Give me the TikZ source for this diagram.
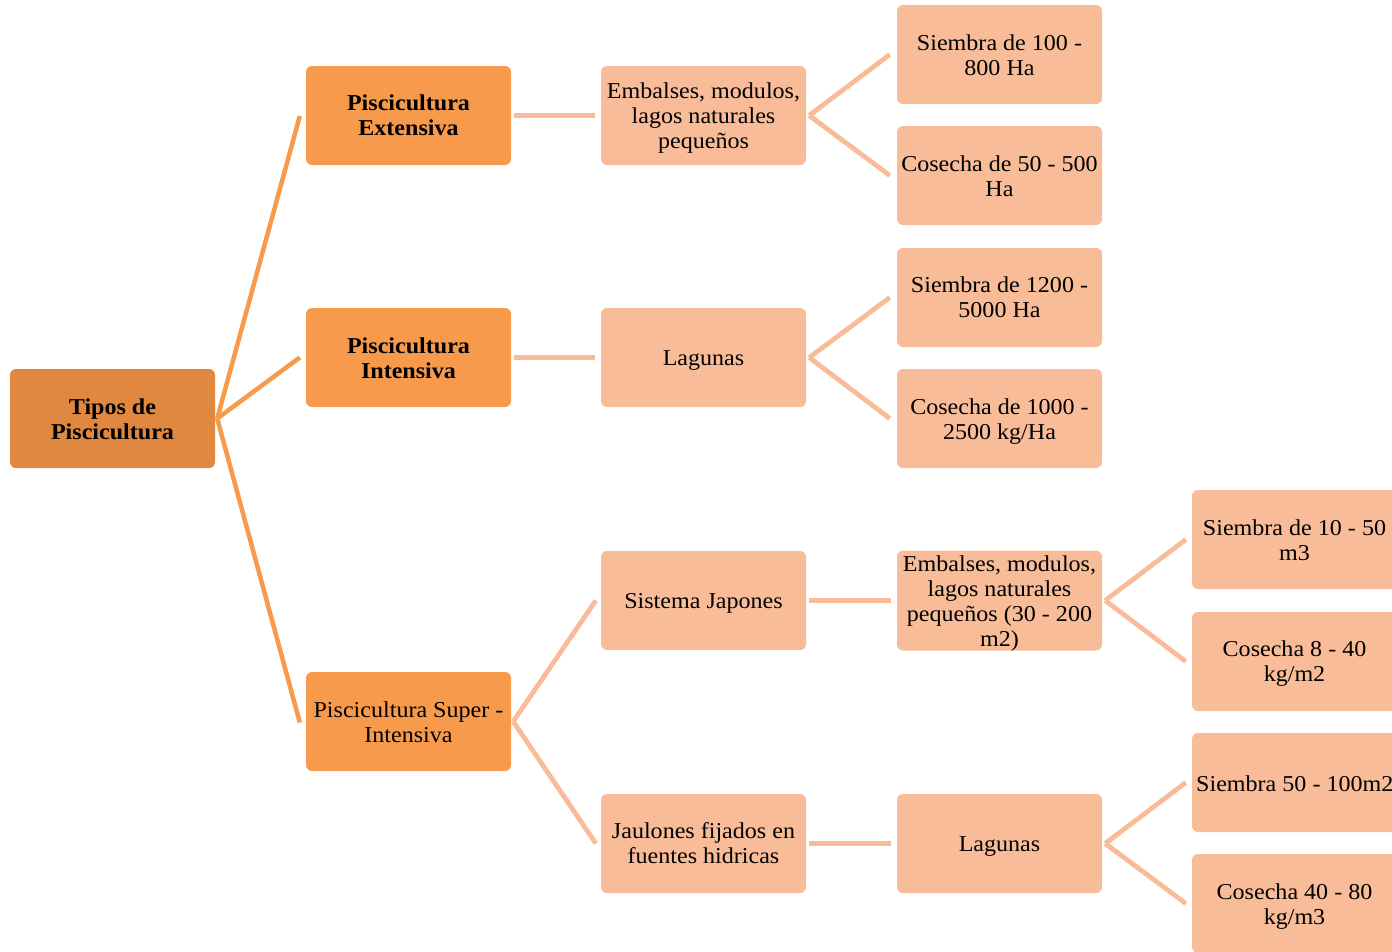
\documentclass[tikz,border=0pt]{standalone}
\usepackage{fontspec}
\setmainfont[FakeStretch=1.06]{Liberation Serif}
\definecolor{rootc}{HTML}{E0883F}
\definecolor{lvone}{HTML}{F79A4C}
\definecolor{lvtwo}{HTML}{F8BC98}
\definecolor{lineone}{HTML}{F79A4C}
\definecolor{linetwo}{HTML}{F8BC98}
\newcommand{\bx}[2][3pt]{\raisebox{-#1}[\height][\depth]{\begin{tabular}{@{}c@{}}#2\end{tabular}}}
\tikzset{
  boxbase/.style={rectangle, rounded corners=6pt, minimum width=205pt, minimum height=99pt,
    inner sep=0pt, text=black,
    font=\fontsize{22.7}{25}\selectfont},
  rootbox/.style={boxbase, fill=rootc, font=\fontsize{22.7}{25}\selectfont\bfseries},
  onebox/.style={boxbase, fill=lvone},
  onebold/.style={onebox, font=\fontsize{22.7}{25}\selectfont\bfseries},
  twobox/.style={boxbase, fill=lvtwo},
  rootline/.style={draw=lineone, line width=4.5pt},
  subline/.style={draw=linetwo, line width=4.8pt},
}
\begin{document}
\begin{tikzpicture}[x=1pt,y=-1pt]
\useasboundingbox (0,0) rectangle (1392,951);
% nodes
\node[rootbox] (root) at (112.5,418.5) {\bx[3.5pt]{Tipos de\\Piscicultura}};
\node[onebold] (ext) at (408.5,115.5) {\bx[2pt]{Piscicultura\\Extensiva}};
\node[onebold] (int) at (408.5,357.5) {\bx[3.5pt]{Piscicultura\\Intensiva}};
\node[onebox] (sup) at (408.5,721.5) {\bx[3.5pt]{Piscicultura Super -\\Intensiva}};
\node[twobox] (emb) at (703.5,115.5) {\bx{Embalses, modulos,\\lagos naturales\\pequeños}};
\node[twobox] (lag) at (703.5,357.5) {\bx{Lagunas}};
\node[twobox] (jap) at (703.5,600.5) {\bx{Sistema Japones}};
\node[twobox] (jau) at (703.5,843.5) {\bx[2pt]{Jaulones fijados en\\fuentes hidricas}};
\node[twobox] (sa) at (999.5,54.5) {\bx[3.5pt]{Siembra de 100 -\\800 Ha}};
\node[twobox] (ca) at (999.5,175.5) {\bx[3.5pt]{Cosecha de 50 - 500\\Ha}};
\node[twobox] (sb) at (999.5,297.5) {\bx[2pt]{Siembra de 1200 -\\5000 Ha}};
\node[twobox] (cb) at (999.5,418.5) {\bx{Cosecha de 1000 -\\2500 kg/Ha}};
\node[twobox] (emc) at (999.5,600.5) {\bx{Embalses, modulos,\\lagos naturales\\pequeños (30 - 200\\m2)}};
\node[twobox] (lgd) at (999.5,843.5) {\bx{Lagunas}};
\node[twobox] (sc) at (1294.5,539.5) {\bx[3.5pt]{Siembra de 10 - 50\\m3}};
\node[twobox] (cc) at (1294.5,661.5) {\bx[2pt]{Cosecha 8 - 40\\kg/m2}};
\node[twobox] (sd) at (1294.5,782.5) {};
\node[font=\fontsize{22.7}{25}\selectfont, inner sep=0pt, anchor=west] (sdt) at (1196,783.5) {Siembra 50 - 100m2};
\node[twobox] (cd) at (1294.5,903.5) {\bx{Cosecha 40 - 80\\kg/m3}};
% connectors
\draw[rootline] ([xshift=2pt]root.east) -- ([xshift=-6pt,yshift=-0.5pt]ext.west);
\draw[rootline] ([xshift=2pt]root.east) -- ([xshift=-6pt]int.west);
\draw[rootline] ([xshift=2pt]root.east) -- ([xshift=-6pt,yshift=-1pt]sup.west);
\draw[subline] ([xshift=3pt]ext.east) -- ([xshift=-6pt]emb.west);
\draw[subline] ([xshift=3pt]int.east) -- ([xshift=-6pt]lag.west);
\draw[subline] ([xshift=3pt]emb.east) -- ([xshift=-7pt]sa.west);
\draw[subline] ([xshift=3pt]emb.east) -- ([xshift=-7pt]ca.west);
\draw[subline] ([xshift=3pt]lag.east) -- ([xshift=-7pt]sb.west);
\draw[subline] ([xshift=3pt]lag.east) -- ([xshift=-7pt]cb.west);
\draw[subline] ([xshift=2pt]sup.east) -- ([xshift=-5pt]jap.west);
\draw[subline] ([xshift=2pt]sup.east) -- ([xshift=-5pt]jau.west);
\draw[subline] ([xshift=3pt]jap.east) -- ([xshift=-6pt]emc.west);
\draw[subline] ([xshift=3pt]jau.east) -- ([xshift=-6pt]lgd.west);
\draw[subline] ([xshift=3pt]emc.east) -- ([xshift=-6pt]sc.west);
\draw[subline] ([xshift=3pt]emc.east) -- ([xshift=-6pt]cc.west);
\draw[subline] ([xshift=3pt]lgd.east) -- ([xshift=-6pt]sd.west);
\draw[subline] ([xshift=3pt]lgd.east) -- ([xshift=-6pt]cd.west);
\end{tikzpicture}
\end{document}
